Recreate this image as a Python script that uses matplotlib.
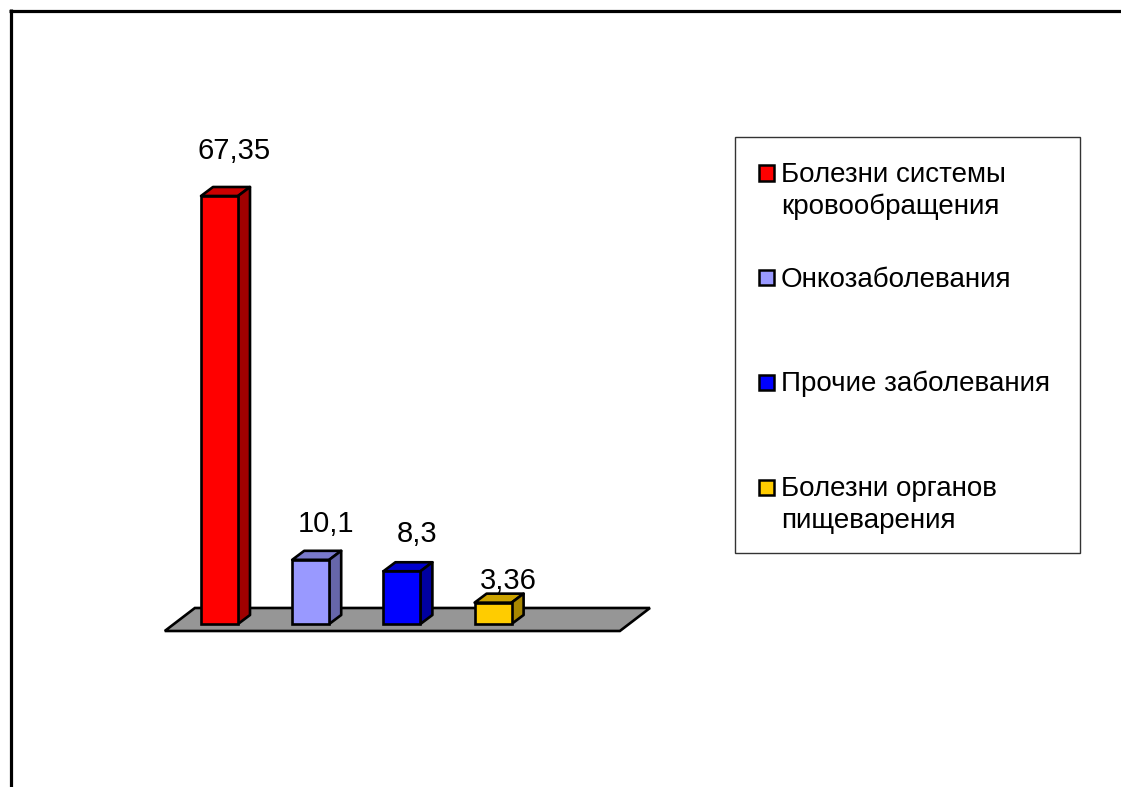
import matplotlib
matplotlib.use("Agg")
import matplotlib.pyplot as plt
from matplotlib.patches import Polygon, Rectangle
from matplotlib.lines import Line2D

plt.rcParams['font.family'] = ['Liberation Sans', 'DejaVu Sans']

# data
categories = ['Болезни системы\nкровообращения', 'Онкозаболевания',
              'Прочие заболевания', 'Болезни органов\nпищеварения']
values = [67.35, 10.1, 8.3, 3.36]
value_labels = ['67,35', '10,1', '8,3', '3,36']

# styles
front_colors = ['#FF0000', '#9999FF', '#0000FF', '#FFCC00']
top_colors = ['#CC0000', '#7A7ACC', '#0000CC', '#CCA300']
side_colors = ['#A00000', '#6666AA', '#0000A0', '#A88700']
label_lift_px = [28, 19, 20, 5]

FIG_W, FIG_H = 1121, 787
X0_PX, BASE_PX = 219.5, 624      # centre of first bar, bar bottom (px from top)
PX_X, PX_Y = 91.2, 6.355         # px per category step, px per value unit
xlim = (-0.7, 4.8)
ylim = (-1.5, 72)
EDGE = 1.9

bar_w = 37 / PX_X
dx, dy = 12 / PX_X, 9 / PX_Y     # depth of bars

fig = plt.figure(figsize=(FIG_W / 100, FIG_H / 100), dpi=100)
left = (X0_PX + xlim[0] * PX_X) / FIG_W
width = (xlim[1] - xlim[0]) * PX_X / FIG_W
bottom = (FIG_H - (BASE_PX - ylim[0] * PX_Y)) / FIG_H
height = (ylim[1] - ylim[0]) * PX_Y / FIG_H
ax = fig.add_axes([left, bottom, width, height])
ax.set_xlim(*xlim)
ax.set_ylim(*ylim)
ax.axis('off')

# floor
fl_front, fl_back = -1.1, 2.52
fl_l, fl_r, fl_shift = -0.6, 4.39, 0.33
ax.add_patch(Polygon([(fl_l, fl_front), (fl_r, fl_front),
                      (fl_r + fl_shift, fl_back), (fl_l + fl_shift, fl_back)],
                     closed=True, facecolor='#969696', edgecolor='black',
                     lw=EDGE, zorder=1))

xs = list(range(len(values)))
ax.bar(xs, values, width=bar_w, color=front_colors, edgecolor='black',
       lw=EDGE, zorder=3)
for x, v, tc, sc in zip(xs, values, top_colors, side_colors):
    l, r = x - bar_w / 2, x + bar_w / 2
    ax.add_patch(Polygon([(l, v), (r, v), (r + dx, v + dy), (l + dx, v + dy)],
                         closed=True, facecolor=tc, edgecolor='black', lw=EDGE,
                         joinstyle='round', zorder=2))
    ax.add_patch(Polygon([(r, 0), (r + dx, dy), (r + dx, v + dy), (r, v)],
                         closed=True, facecolor=sc, edgecolor='black', lw=EDGE,
                         joinstyle='round', zorder=2))

for x, v, lab, lift in zip(xs, values, value_labels, label_lift_px):
    ax.annotate(lab, (x, v + dy), xytext=(15, lift), textcoords='offset pixels',
                ha='center', va='baseline', fontsize=21, color='black')

# legend drawn by hand (Excel style)
def fx(px):
    return px / FIG_W

def fy(py):
    return 1 - py / FIG_H

fig.patches.append(Rectangle((fx(735), fy(553)), fx(1080) - fx(735), fy(137) - fy(553),
                             transform=fig.transFigure, facecolor='white',
                             edgecolor='#333333', lw=1.0))
entry_y = [173, 277, 382, 487]
for lab, col, py in zip(categories, front_colors, entry_y):
    fig.patches.append(Rectangle((fx(759), fy(py + 7.5)), fx(15), 15 / FIG_H,
                                 transform=fig.transFigure, facecolor=col,
                                 edgecolor='black', lw=1.8))
    for k, line in enumerate(lab.split('\n')):
        fig.text(fx(781), fy(py + 9.5 + 32 * k), line, ha='left', va='baseline',
                 fontsize=20)

# frame lines at top and left
fig.lines.append(Line2D([fx(9), 1], [fy(10.5), fy(10.5)], transform=fig.transFigure,
                        color='black', lw=2.3, solid_capstyle='butt'))
fig.lines.append(Line2D([fx(10.5), fx(10.5)], [fy(9), 0], transform=fig.transFigure,
                        color='black', lw=2.3, solid_capstyle='butt'))

fig.savefig('out.png', dpi=100, facecolor='white')
